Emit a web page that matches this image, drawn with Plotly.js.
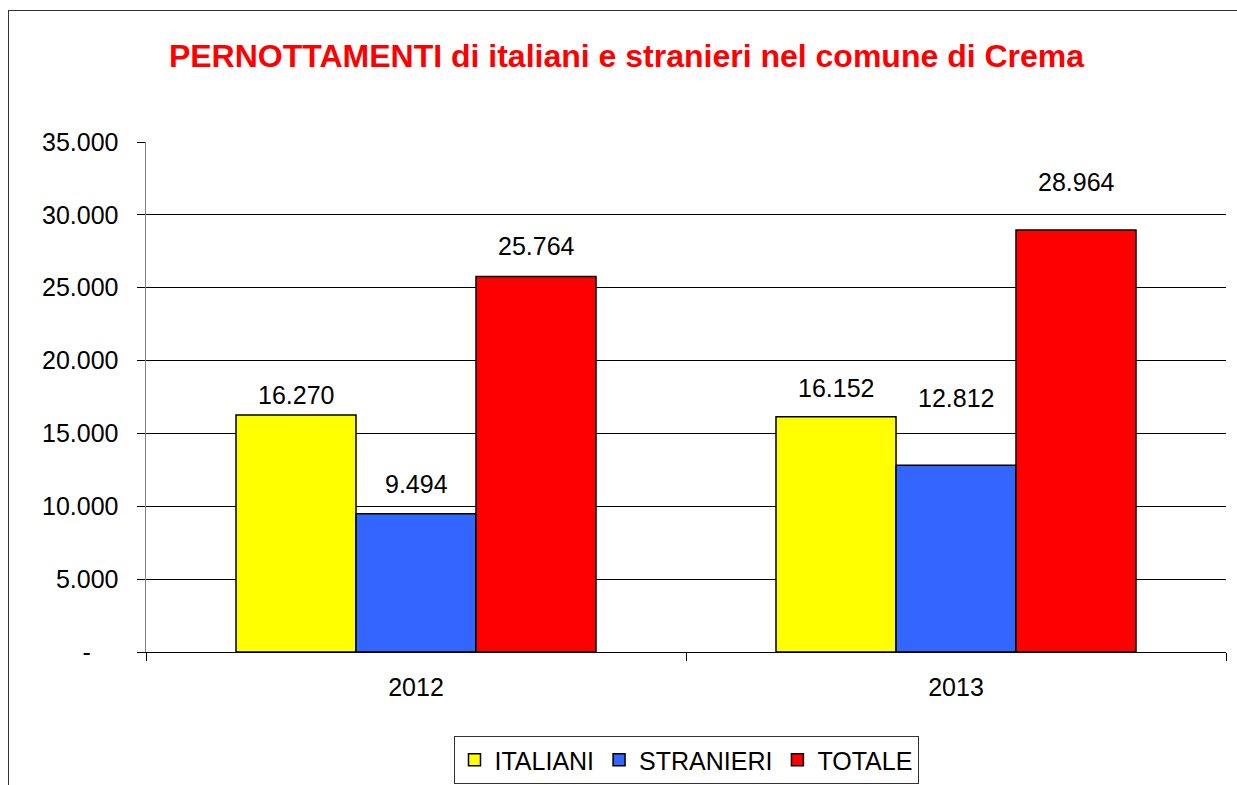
<!DOCTYPE html>
<html>
<head>
<meta charset="utf-8">
<script src="https://cdn.plot.ly/plotly-3.0.1.min.js"></script>
<style>
html,body{margin:0;padding:0;overflow:hidden;background:#fff;}
#wrap{position:relative;width:1237px;height:785px;}
#chart{width:1237px;height:785px;}
#frame{position:absolute;left:8px;top:10px;width:1300px;height:900px;border:1.5px solid #333;pointer-events:none;box-sizing:border-box;}
</style>
</head>
<body>
<div id="wrap"><div id="chart"></div><div id="frame"></div></div>
<script>
const years = ['2012', '2013'];
const seriesNames = ['ITALIANI', 'STRANIERI', 'TOTALE'];
const italiani = [16270, 16152];
const stranieri = [9494, 12812];
const totale = [25764, 28964];
const yTickVals = [0, 5000, 10000, 15000, 20000, 25000, 30000, 35000];
const yTickText = ['-\u00A0\u00A0\u00A0\u00A0', '5.000', '10.000', '15.000', '20.000', '25.000', '30.000', '35.000'];

const font = 'Liberation Sans, Arial, sans-serif';
const colors = ['#FFFF00', '#3366FF', '#FF0000'];
const allSeries = [italiani, stranieri, totale];
const bargap = 1/3;
// pixel lift of each data label above its bar (series x year), as placed in the original
const labelLift = [[20, 29], [30, 67], [31, 48]];

const data = allSeries.map((vals, i) => ({
  type: 'bar', name: seriesNames[i], x: years, y: vals,
  marker: {color: colors[i], line: {color: '#000', width: 1.5}},
  hoverinfo: 'none'
}));

function fmt(v) {
  return String(v).replace(/\B(?=(\d{3})+(?!\d))/g, '.');
}
const barW = (1 - bargap) / allSeries.length;
const annotations = [];
allSeries.forEach((vals, i) => {
  vals.forEach((v, j) => {
    annotations.push({
      x: j + (i - (allSeries.length - 1) / 2) * barW, y: v, xref: 'x', yref: 'y',
      text: fmt(v), showarrow: false, yanchor: 'middle', yshift: labelLift[i][j],
      font: {family: font, size: 25, color: '#000'}
    });
  });
});

const layout = {
  width: 1237, height: 785,
  margin: {l: 146, r: 11, t: 142, b: 133},
  paper_bgcolor: '#fff', plot_bgcolor: '#fff',
  font: {family: font, size: 25, color: '#000'},
  title: {text: '<b>PERNOTTAMENTI di italiani e stranieri nel comune di Crema</b>',
    font: {family: font, size: 32, color: '#FF0000'},
    x: 626.5/1237, xanchor: 'center', y: 1 - 56/785, yanchor: 'middle', yref: 'container'},
  barmode: 'group', bargap: bargap, bargroupgap: 0,
  showlegend: true,
  legend: {orientation: 'h', x: 0.5, xanchor: 'center', y: 1 - 736/785, yanchor: 'top', yref: 'container',
    bordercolor: '#333', borderwidth: 1, font: {family: font, size: 25, color: '#000'},
    traceorder: 'normal', itemwidth: 30},
  annotations: annotations,
  xaxis: {type: 'category', showgrid: false, showline: true, linecolor: '#000', linewidth: 1,
    ticks: 'outside', tickson: 'boundaries', ticklen: 8, tickcolor: '#000', ticklabelstandoff: 13,
    tickfont: {family: font, size: 25, color: '#000'}, zeroline: false, automargin: false},
  yaxis: {range: [0, 35000], tickvals: yTickVals, ticktext: yTickText,
    showgrid: true, gridcolor: '#000', gridwidth: 1,
    showline: true, linecolor: '#808080', linewidth: 1.5,
    ticks: 'outside', ticklen: 8, tickcolor: '#000', ticklabelstandoff: 13,
    tickfont: {family: font, size: 25, color: '#000'}, zeroline: false, automargin: false}
};
Plotly.newPlot('chart', data, layout, {displayModeBar: false, staticPlot: true});
</script>
</body>
</html>
